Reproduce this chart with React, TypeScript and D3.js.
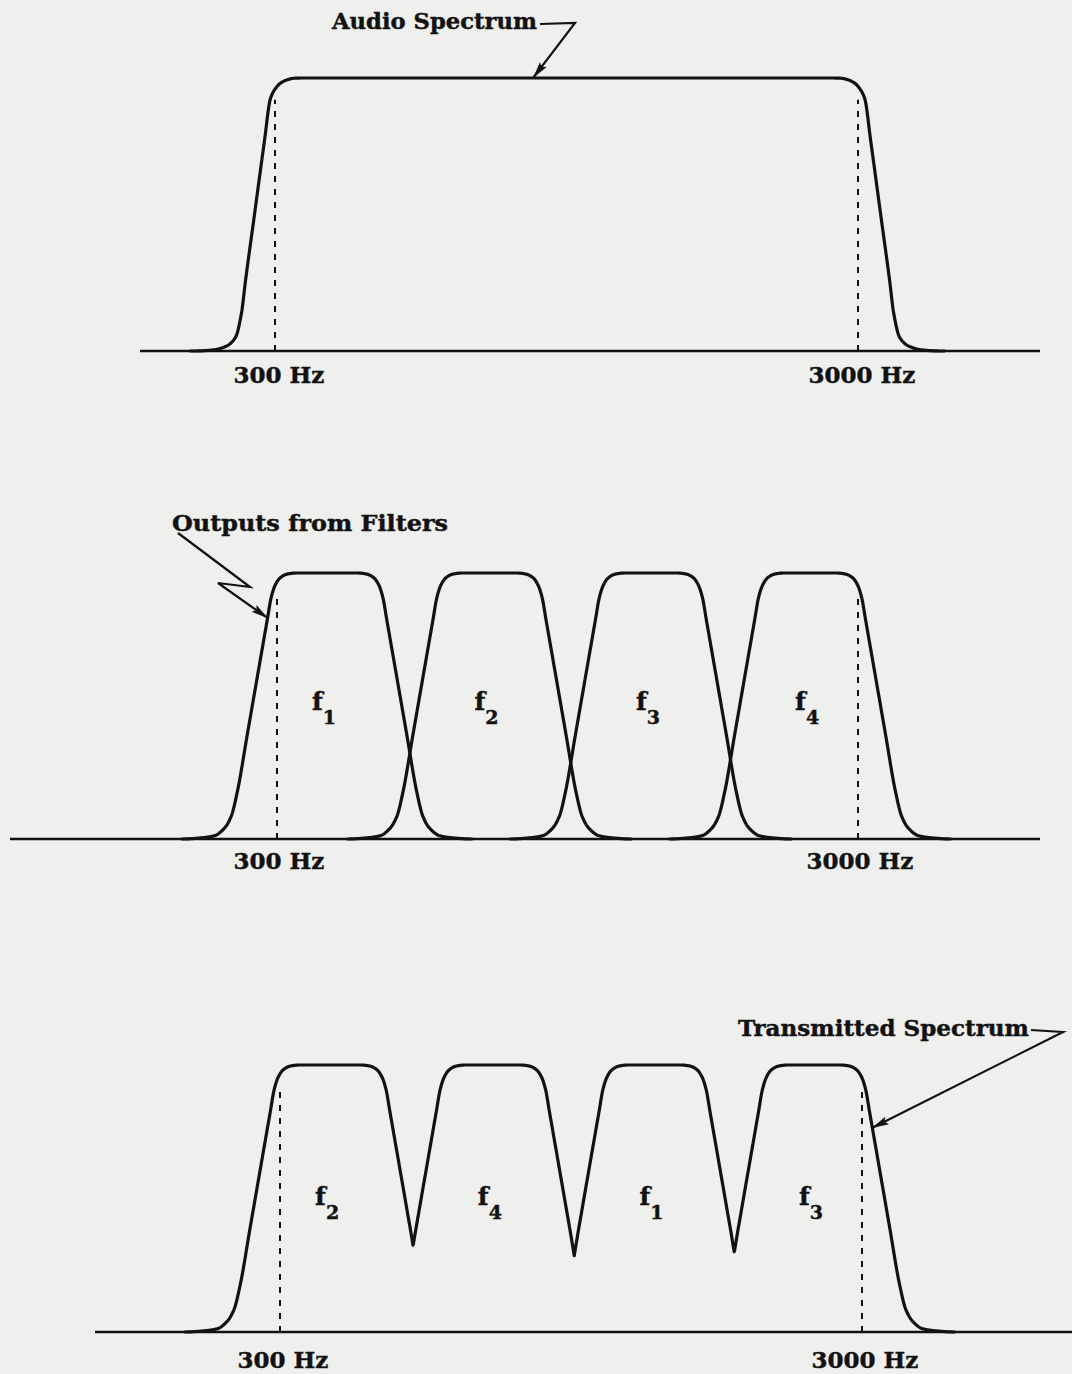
import React from "react";
import * as d3 from "d3";

const W = 1072;
const H = 1374;

// marked frequencies (Hz) and their labels
const markHz = [300, 3000];
const markLabels = ["300 Hz", "3000 Hz"];

// audio spectrum: half-amplitude band edges (Hz)
const audioBand = [205, 3105];

// filter bank: half-amplitude edges (Hz)
const filterNames = ["1", "2", "3", "4"];
const filterLow = [185, 955, 1710, 2450];
const filterHigh = [880, 1620, 2365, 3105];

// filters placed in the four slots of the transmitted spectrum
const transmittedOrder = ["2", "4", "1", "3"];

// edge profile of a filter: inward offset from half-amplitude point (Hz) -> relative amplitude
const filterEdgeOffsetHz = [-325, -242, -177, -130, -98, -70, -23, 23, 70, 88, 107, 130, 163, 204];
const filterEdgeAmp = [0, 0.004, 0.012, 0.04, 0.085, 0.175, 0.393, 0.607, 0.825, 0.908, 0.955, 0.982, 0.996, 1];

// edge profile of the audio spectrum
const audioEdgeOffsetHz = [-278, -190, -130, -88, -60, -42, 0, 46, 74, 96, 120, 150, 182, 222];
const audioEdgeAmp = [0, 0.004, 0.018, 0.05, 0.14, 0.255, 0.5, 0.769, 0.925, 0.96, 0.981, 0.993, 0.999, 1];

// annotation arrow tips (Hz, amplitude)
const audioTip = [1495, 1];
const outputsTip = [258, 0.83];
const transmittedTip = [3046, 0.764];

function monotoneInterp(xs: number[], ys: number[]) {
  const n = xs.length;
  const dx: number[] = [];
  const m: number[] = [];
  for (let i = 0; i < n - 1; i++) {
    dx.push(xs[i + 1] - xs[i]);
    m.push((ys[i + 1] - ys[i]) / dx[i]);
  }
  const t: number[] = new Array(n).fill(0);
  for (let i = 1; i < n - 1; i++) {
    if (m[i - 1] * m[i] <= 0) t[i] = 0;
    else {
      const w1 = 2 * dx[i] + dx[i - 1];
      const w2 = dx[i] + 2 * dx[i - 1];
      t[i] = (w1 + w2) / (w1 / m[i - 1] + w2 / m[i]);
    }
  }
  t[0] = 0;
  t[n - 1] = 0;
  return (x: number) => {
    if (x <= xs[0]) return ys[0];
    if (x >= xs[n - 1]) return ys[n - 1];
    const i = Math.min(n - 2, d3.bisectRight(xs, x) - 1);
    const h = dx[i];
    const s = (x - xs[i]) / h;
    const s2 = s * s;
    const s3 = s2 * s;
    return (
      (2 * s3 - 3 * s2 + 1) * ys[i] +
      (s3 - 2 * s2 + s) * h * t[i] +
      (-2 * s3 + 3 * s2) * ys[i + 1] +
      (s3 - s2) * h * t[i + 1]
    );
  };
}

const filterEdge = monotoneInterp(filterEdgeOffsetHz, filterEdgeAmp);
const audioEdge = monotoneInterp(audioEdgeOffsetHz, audioEdgeAmp);

function bandAmp(edge: (x: number) => number, lo: number, hi: number, f: number) {
  return edge(Math.min(f - lo, hi - f));
}

const INK = "#121212";
const FONT = "'DejaVu Serif', serif";

function arrowHead(from: [number, number], to: [number, number], len = 17, half = 4.2) {
  const dx = to[0] - from[0];
  const dy = to[1] - from[1];
  const L = Math.hypot(dx, dy);
  const ux = dx / L;
  const uy = dy / L;
  const bx = to[0] - ux * len;
  const by = to[1] - uy * len;
  return `${to[0]},${to[1]} ${bx - uy * half},${by + ux * half} ${bx + ux * 3},${by + uy * 3} ${bx + uy * half},${by - ux * half}`;
}

const textStyle = {
  fontFamily: FONT,
  fontWeight: "bold" as const,
  fill: INK,
  stroke: INK,
  strokeWidth: 0.45,
};

function FLabel({ x, y, sub }: { x: number; y: number; sub: string }) {
  return (
    <text x={x} y={y} fontSize={25} {...textStyle}>
      f
      <tspan dx={0} dy={14} fontSize={19}>
        {sub}
      </tspan>
    </text>
  );
}

export default function App() {
  // scales for each panel
  const xTop = d3.scaleLinear().domain([300, 3000]).range([275, 858]);
  const yTop = d3.scaleLinear().domain([0, 1]).range([351, 78]);
  const xMid = d3.scaleLinear().domain([300, 3000]).range([277, 858]);
  const yMid = d3.scaleLinear().domain([0, 1]).range([839, 573]);
  const xBot = d3.scaleLinear().domain([300, 3000]).range([280, 862]);
  const yBot = d3.scaleLinear().domain([0, 1]).range([1332, 1065]);

  const step = 2;

  // top: audio spectrum
  const audioPts: [number, number][] = d3
    .range(audioBand[0] - 300, audioBand[1] + 300, step)
    .map((f) => [f, bandAmp(audioEdge, audioBand[0], audioBand[1], f)]);
  const lineTop = d3
    .line<[number, number]>()
    .x((d) => xTop(d[0]))
    .y((d) => yTop(d[1]));

  // middle: individual filter outputs
  const lineMid = d3
    .line<[number, number]>()
    .x((d) => xMid(d[0]))
    .y((d) => yMid(d[1]));
  const filterPaths = filterLow.map((lo, i) => {
    const hi = filterHigh[i];
    const pts: [number, number][] = d3
      .range(lo - 330, hi + 330, step)
      .map((f) => [f, bandAmp(filterEdge, lo, hi, f)]);
    return lineMid(pts) as string;
  });

  // bottom: envelope of the rearranged bands
  const lineBot = d3
    .line<[number, number]>()
    .x((d) => xBot(d[0]))
    .y((d) => yBot(d[1]));
  const envPts: [number, number][] = d3
    .range(filterLow[0] - 330, filterHigh[3] + 330, step)
    .map((f) => [f, d3.max(filterLow, (lo, i) => bandAmp(filterEdge, lo, filterHigh[i], f)) as number]);

  const dashTop = 0.92;
  const sw = 3.2;

  // annotation arrows
  const aTip: [number, number] = [xTop(audioTip[0]), yTop(audioTip[1])];
  const aPts: [number, number][] = [[540, 24], [575, 23], aTip];
  const oTip: [number, number] = [xMid(outputsTip[0]), yMid(outputsTip[1])];
  const oPts: [number, number][] = [[178, 533], [250, 587], [218, 583], oTip];
  const tTip: [number, number] = [xBot(transmittedTip[0]), yBot(transmittedTip[1])];
  const tPts: [number, number][] = [[1031, 1030], [1063, 1032], tTip];
  const poly = (p: [number, number][]) => p.map((d) => d.join(",")).join(" ");

  const slotCenter = (i: number) => (filterLow[i] + filterHigh[i]) / 2;

  return (
    <svg
      width={W}
      height={H}
      viewBox={`0 0 ${W} ${H}`}
      style={{ position: "absolute", left: 0, top: 0, display: "block" }}
    >
      <rect x={0} y={0} width={W} height={H} fill="#efefed" />

      {/* ---------- top panel ---------- */}
      <line x1={140} x2={1040} y1={yTop(0)} y2={yTop(0)} stroke={INK} strokeWidth={2.6} />
      {markHz.map((hz) => (
        <line
          key={"dt" + hz}
          x1={xTop(hz)}
          x2={xTop(hz)}
          y1={yTop(0)}
          y2={yTop(dashTop)}
          stroke={INK}
          strokeWidth={2}
          strokeDasharray="6 7"
        />
      ))}
      <path d={lineTop(audioPts) as string} fill="none" stroke={INK} strokeWidth={sw} strokeLinejoin="round" />
      {markHz.map((hz, i) => (
        <text key={"lt" + hz} x={xTop(hz) + 4} y={383} textAnchor="middle" fontSize={23} {...textStyle}>
          {markLabels[i]}
        </text>
      ))}
      <text x={332} y={29} fontSize={22.5} textLength={205} lengthAdjust="spacingAndGlyphs" {...textStyle}>
        Audio Spectrum
      </text>
      <polyline points={poly(aPts)} fill="none" stroke={INK} strokeWidth={2.2} />
      <polygon points={arrowHead(aPts[1], aTip)} fill={INK} />

      {/* ---------- middle panel ---------- */}
      <line x1={10} x2={1040} y1={yMid(0)} y2={yMid(0)} stroke={INK} strokeWidth={2.6} />
      {markHz.map((hz) => (
        <line
          key={"dm" + hz}
          x1={xMid(hz)}
          x2={xMid(hz)}
          y1={yMid(0)}
          y2={yMid(dashTop)}
          stroke={INK}
          strokeWidth={2}
          strokeDasharray="6 7"
        />
      ))}
      {filterPaths.map((d, i) => (
        <path key={"fp" + i} d={d} fill="none" stroke={INK} strokeWidth={sw} strokeLinejoin="round" />
      ))}
      {filterNames.map((name, i) => (
        <FLabel key={"fl" + name} x={xMid(slotCenter(i)) - 15} y={yMid(0.485)} sub={name} />
      ))}
      {markHz.map((hz, i) => (
        <text key={"lm" + hz} x={xMid(hz) + 2} y={869} textAnchor="middle" fontSize={23} {...textStyle}>
          {markLabels[i]}
        </text>
      ))}
      <text x={172} y={531} fontSize={23} textLength={276} lengthAdjust="spacingAndGlyphs" {...textStyle}>
        Outputs from Filters
      </text>
      <polyline points={poly(oPts)} fill="none" stroke={INK} strokeWidth={2.2} strokeLinejoin="miter" />
      <polygon points={arrowHead(oPts[2], oTip)} fill={INK} />

      {/* ---------- bottom panel ---------- */}
      <line x1={95} x2={1072} y1={yBot(0)} y2={yBot(0)} stroke={INK} strokeWidth={2.6} />
      {markHz.map((hz) => (
        <line
          key={"db" + hz}
          x1={xBot(hz)}
          x2={xBot(hz)}
          y1={yBot(0)}
          y2={yBot(dashTop)}
          stroke={INK}
          strokeWidth={2}
          strokeDasharray="6 7"
        />
      ))}
      <path d={lineBot(envPts) as string} fill="none" stroke={INK} strokeWidth={sw} strokeLinejoin="round" />
      {transmittedOrder.map((name, i) => (
        <FLabel key={"tl" + name} x={xBot(slotCenter(i)) - 15} y={yBot(0.476)} sub={name} />
      ))}
      {markHz.map((hz, i) => (
        <text key={"lb" + hz} x={xBot(hz) + 3} y={1368} textAnchor="middle" fontSize={23} {...textStyle}>
          {markLabels[i]}
        </text>
      ))}
      <text x={738} y={1036} fontSize={22.5} textLength={291} lengthAdjust="spacingAndGlyphs" {...textStyle}>
        Transmitted Spectrum
      </text>
      <polyline points={poly(tPts)} fill="none" stroke={INK} strokeWidth={2.2} />
      <polygon points={arrowHead(tPts[1], tTip)} fill={INK} />
    </svg>
  );
}
